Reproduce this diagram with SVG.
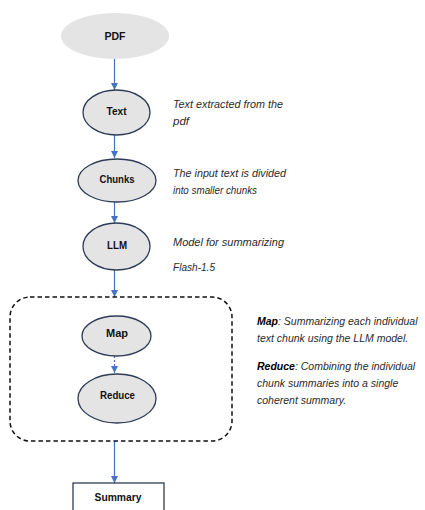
<svg xmlns="http://www.w3.org/2000/svg" width="425" height="510" viewBox="0 0 425 510">
<style>
.node{fill:#e4e4e4;stroke:#2e3b57;stroke-width:1.3}
.lbl{font-family:"Liberation Sans",Arial,sans-serif;font-weight:bold;font-size:11.5px;fill:#111;text-anchor:middle}
.desc{font-family:"Liberation Sans",Arial,sans-serif;font-style:italic;font-size:11.5px;fill:#2a2a2a}
.note{font-family:"Liberation Sans",Arial,sans-serif;font-style:italic;font-size:10.5px;fill:#2a2a2a}
.key{font-weight:bold;fill:#000}
.conn{stroke:#4472c4;stroke-width:1.2;fill:none}
</style>
<defs>
<marker id="ah" markerUnits="userSpaceOnUse" markerWidth="8" markerHeight="8" refX="7" refY="4" orient="auto">
<path d="M0,0.5 L7,4 L0,7.5 Z" fill="#4472c4"/>
</marker>
</defs>
<rect width="425" height="510" fill="#fff"/>
<g id="connectors">
<line class="conn" x1="114.5" y1="59" x2="114.5" y2="90" marker-end="url(#ah)"/>
<line class="conn" x1="114.5" y1="135" x2="114.5" y2="158" marker-end="url(#ah)"/>
<line class="conn" x1="114.5" y1="202" x2="114.5" y2="223" marker-end="url(#ah)"/>
<line class="conn" x1="114.5" y1="270" x2="114.5" y2="297" marker-end="url(#ah)"/>
<line class="conn" x1="114.5" y1="356" x2="114.5" y2="373" stroke-dasharray="2,2" marker-end="url(#ah)"/>
<line class="conn" x1="114.5" y1="441" x2="114.5" y2="483" marker-end="url(#ah)"/>
</g>
<g id="group-box">
<rect x="10" y="297" width="222" height="144" rx="20" ry="20" fill="none" stroke="#111" stroke-width="1.5" stroke-dasharray="4.5,3"/>
</g>
<g id="pdf">
<ellipse cx="115" cy="36" rx="54" ry="23" fill="#e4e4e4"/>
<text class="lbl" x="115" y="40" font-size="13" textLength="21" lengthAdjust="spacingAndGlyphs">PDF</text>
</g>
<g id="text">
<ellipse class="node" cx="116.5" cy="112.5" rx="33.5" ry="22.5"/>
<text class="lbl" x="116.5" y="114.5" textLength="20" lengthAdjust="spacingAndGlyphs">Text</text>
<text class="desc" x="173" y="108" textLength="110" lengthAdjust="spacingAndGlyphs">Text extracted from the</text>
<text class="desc" x="173" y="125" textLength="16" lengthAdjust="spacingAndGlyphs">pdf</text>
</g>
<g id="chunks">
<ellipse class="node" cx="117" cy="180.5" rx="39" ry="21.5"/>
<text class="lbl" x="117" y="183" textLength="35" lengthAdjust="spacingAndGlyphs">Chunks</text>
<text class="desc" x="173" y="177" textLength="113" lengthAdjust="spacingAndGlyphs">The input text is divided</text>
<text class="desc" x="173" y="194" textLength="84" lengthAdjust="spacingAndGlyphs">into smaller chunks</text>
</g>
<g id="llm">
<ellipse class="node" cx="116.5" cy="246.5" rx="33.5" ry="23.5"/>
<text class="lbl" x="117" y="249" textLength="20" lengthAdjust="spacingAndGlyphs">LLM</text>
<text class="desc" x="173" y="246" textLength="111" lengthAdjust="spacingAndGlyphs">Model for summarizing</text>
<text class="desc" x="173" y="271" textLength="42" lengthAdjust="spacingAndGlyphs">Flash-1.5</text>
</g>
<g id="map">
<ellipse class="node" cx="116.5" cy="336" rx="34.5" ry="20"/>
<text class="lbl" x="117" y="337" textLength="22" lengthAdjust="spacingAndGlyphs">Map</text>
</g>
<g id="reduce">
<ellipse class="node" cx="117" cy="398.5" rx="39" ry="24.5"/>
<text class="lbl" x="117.5" y="399" textLength="35" lengthAdjust="spacingAndGlyphs">Reduce</text>
</g>
<g id="summary">
<rect x="73" y="483" width="91" height="40" fill="#fff" stroke="#2e3b57" stroke-width="1.3"/>
<text class="lbl" x="118" y="501" textLength="47" lengthAdjust="spacingAndGlyphs">Summary</text>
</g>
<g id="notes">
<text class="note" x="257" y="325"><tspan class="key">Map</tspan>: Summarizing each individual</text>
<text class="note" x="257" y="342">text chunk using the LLM model.</text>
<text class="note" x="257" y="370"><tspan class="key">Reduce</tspan>: Combining the individual</text>
<text class="note" x="257" y="387">chunk summaries into a single</text>
<text class="note" x="257" y="404">coherent summary.</text>
</g>
</svg>
